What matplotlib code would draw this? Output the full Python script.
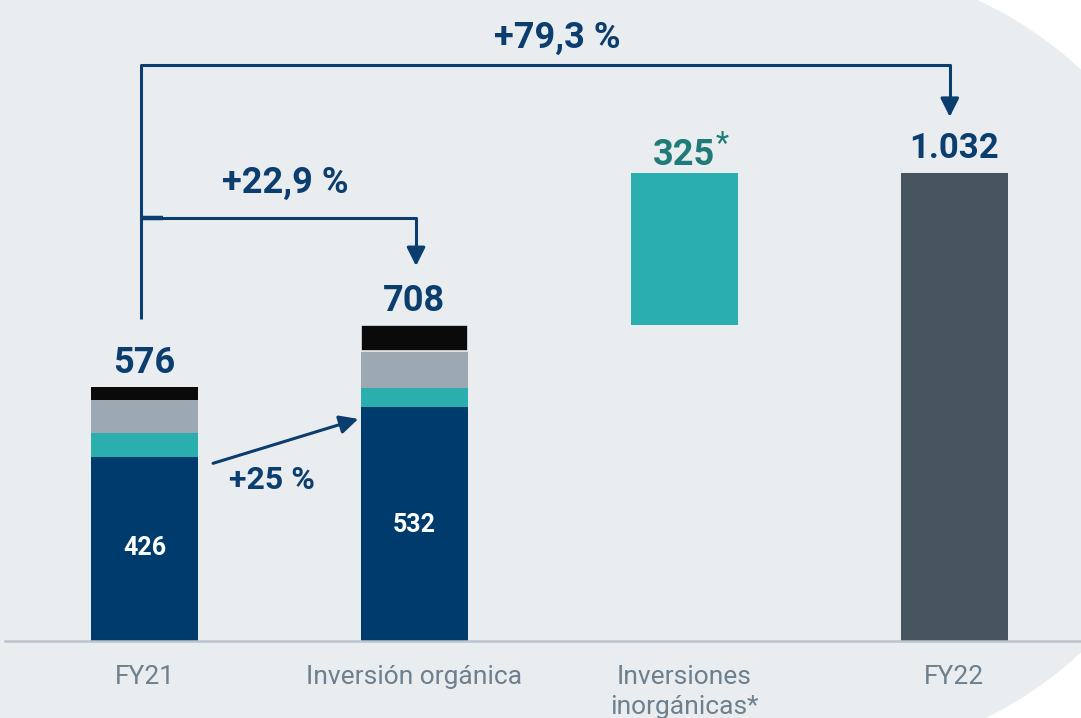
import matplotlib.pyplot as plt
from matplotlib.patches import Circle, Rectangle
import numpy as np

plt.rcParams['font.family'] = ['Roboto', 'DejaVu Sans']

# data
categories = ['FY21', 'Inversión orgánica', 'Inversiones\ninorgánicas*', 'FY22']
base_vals = [426, 532]          # dark blue segment
teal_vals = [51, 42]
grey_vals = [71, 78]
black_vals = [28, 56]
totals = [576, 708]
inorg_start = 708
inorg_val = 325
fy22 = 1032

navy = '#003B6D'
teal = '#2BAEAE'
grey = '#9CA8B2'
black = '#0A0A0A'
slate = '#48555F'
txt = '#0B3D6E'
bg = '#E9EDF0'

fig = plt.figure(figsize=(10.81, 7.18), dpi=100)
fig.patch.set_facecolor('white')
# background shape: rectangle + round right side
fig.patches.append(Rectangle((0, 0), 810 / 1081, 1, transform=fig.transFigure,
                             facecolor=bg, edgecolor='none', zorder=-10))
fig.patches.append(Circle((810, 718 - 361), 398, transform=None,
                          facecolor=bg, edgecolor='none', zorder=-10))

ax = fig.add_axes([0, 77 / 718, 1, 641 / 718])
ax.set_facecolor('none')
ax.set_xlim(-0.535, 3.469)
ax.set_ylim(32, 1403)
w = 0.396
x = np.arange(4)

# stacked bars
b1 = np.array(base_vals)
b2 = b1 + np.array(teal_vals)
b3 = b2 + np.array(grey_vals)
ax.bar(x[:2], base_vals, w, color=navy)
ax.bar(x[:2], teal_vals, w, bottom=b1, color=teal)
ax.bar(x[:2], grey_vals, w, bottom=b2, color=grey)
ax.bar(x[:2], black_vals, w, bottom=b3, color=black, edgecolor=bg, linewidth=[0, 1.2])
ax.bar(x[2], fy22 - inorg_start, w, bottom=inorg_start, color=teal)
ax.bar(x[3], fy22, w, color=slate)

# value labels
for i in range(2):
    ax.annotate(str(totals[i]), (x[i], totals[i]), xytext=(0, 10), textcoords='offset points',
                ha='center', va='baseline', fontsize=26, fontweight='bold', color=txt)
    ax.text(x[i], base_vals[i] * 0.54 - 8 * i, str(base_vals[i]), ha='center', va='center',
            fontsize=18, fontweight='bold', color='white')
ax.annotate(str(inorg_val), (x[2], fy22), xytext=(0, 6), textcoords='offset points',
            ha='center', va='baseline', fontsize=26, fontweight='bold', color='#1F7B78')
ax.annotate('*', (x[2] + 0.14, fy22), xytext=(0, 15), textcoords='offset points',
            ha='center', va='baseline', fontsize=22, color='#1F7B78')
ax.annotate('1.032', (x[3], fy22), xytext=(0, 11), textcoords='offset points',
            ha='center', va='baseline', fontsize=25, fontweight='bold', color=txt)

# brackets
lk = dict(color=txt, lw=2.2, solid_capstyle='butt')
ax.plot([-0.013, -0.013, 2.983, 2.983], [721, 1264, 1264, 1185], **lk)
ax.annotate('', xy=(2.983, 1153), xytext=(2.983, 1190),
            arrowprops=dict(arrowstyle='-|>', color=txt, lw=2.2, mutation_scale=28, shrinkA=0, shrinkB=0))
ax.plot([-0.013, 1.006, 1.006], [937, 937, 870], **lk)
ax.plot([-0.013, 0.07], [937, 937], color=txt, lw=3.2, solid_capstyle='butt')
ax.annotate('', xy=(1.006, 834), xytext=(1.006, 875),
            arrowprops=dict(arrowstyle='-|>', color=txt, lw=2.2, mutation_scale=28, shrinkA=0, shrinkB=0))
ax.annotate('', xy=(0.792, 507), xytext=(0.254, 412),
            arrowprops=dict(arrowstyle='-|>', color=txt, lw=2.2, mutation_scale=28, shrinkA=0, shrinkB=0))

ax.text(1.528, 1322, '+79,3 %', ha='center', va='center', fontsize=26, fontweight='bold', color=txt)
ax.text(0.520, 1012, '+22,9 %', ha='center', va='center', fontsize=26, fontweight='bold', color=txt)
ax.text(0.472, 376, '+25 %', ha='center', va='center', fontsize=23, fontweight='bold', color=txt)

# axis
for s in ['top', 'left', 'right']:
    ax.spines[s].set_visible(False)
ax.spines['bottom'].set_color('#BBC3CB')
ax.spines['bottom'].set_linewidth(1.8)
ax.spines['bottom'].set_bounds(-0.516, 3.469)
ax.set_yticks([])
ax.set_xticks(x)
ax.set_xticklabels(categories, fontsize=19, color='#6E7F8D', linespacing=1.35, va='top')
ax.tick_params(axis='x', length=0, pad=17)

plt.savefig('out.png', dpi=100)
